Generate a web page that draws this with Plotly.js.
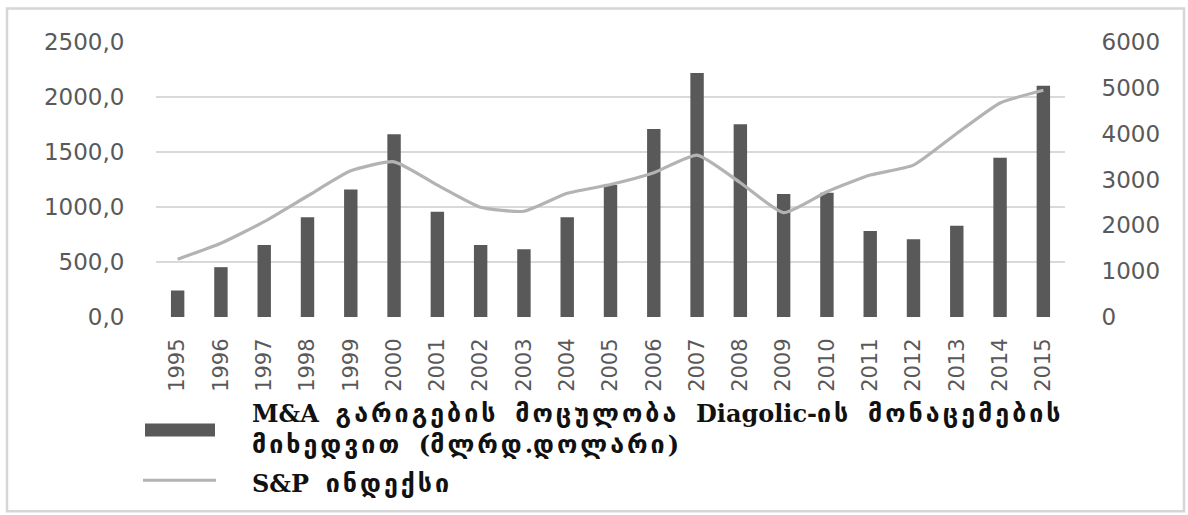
<!DOCTYPE html>
<html>
<head>
<meta charset="utf-8">
<script src="https://cdn.plot.ly/plotly-3.0.1.min.js"></script>
<style>
  html, body { margin: 0; padding: 0; background: #ffffff; }
  #chart { width: 1188px; height: 515px; }
</style>
</head>
<body>
<div id="chart"></div>
<script>
// Years on the category axis
const years = ['1995','1996','1997','1998','1999','2000','2001','2002','2003','2004',
               '2005','2006','2007','2008','2009','2010','2011','2012','2013','2014','2015'];

// M&A deal volume, bn USD (left axis)
const dealVolume = [241, 453, 655, 907, 1160, 1662, 957, 655, 616, 907,
                    1199, 1710, 2218, 1752, 1118, 1130, 782, 707, 830, 1447, 2103];

// S&P index (right axis)
const spIndex = [1262, 1610, 2080, 2640, 3190, 3386, 2879, 2394, 2307, 2698,
                 2890, 3147, 3532, 2929, 2276, 2733, 3097, 3314, 4004, 4670, 4946];

// Tick values
const leftTicks = [0, 500, 1000, 1500, 2000, 2500];
const rightTicks = [0, 1000, 2000, 3000, 4000, 5000, 6000];

const barName = 'M&A გარიგების მოცულობა Diagolic-ის მონაცემების<br>მიხედვით (მლრდ.დოლარი)';
const lineName = 'S&P ინდექსი';

const barColor = '#595959';
const lineColor = '#b3b3b3';
const tickColor = '#595959';
const gridColor = '#d9d9d9';

// plot area in pixels
const W = 1188, H = 515;
const L = 156, R = 1065, T = 41.6, B = 317.3;
const px = x => (x - L) / (R - L);
const py = y => (B - y) / (B - T);

// wide word gaps, and a heavier, wider face for runs of Georgian letters
const caption = s => s
  .replace(/ /g, '\u00a0\u00a0')
  .replace(/([\u10A0-\u10FF]+)/g,
    '<span style="font-family:DejaVu Sans;font-size:25px;letter-spacing:3px">$1</span>');

const traces = [
  {
    type: 'bar', x: years, y: dealVolume, name: barName,
    marker: { color: barColor }, showlegend: false, yaxis: 'y'
  },
  {
    type: 'scatter', mode: 'lines', x: years, y: spIndex, name: lineName,
    line: { color: lineColor, width: 3.2, shape: 'spline', smoothing: 0.5 },
    showlegend: false, yaxis: 'y2'
  }
];

const legendFont = { family: 'DejaVu Serif, serif', size: 24, color: '#111111' };

const layout = {
  width: W, height: H,
  margin: { l: L, r: W - R, t: T, b: H - B, pad: 0 },
  paper_bgcolor: '#ffffff', plot_bgcolor: '#ffffff',
  bargap: 0.69,
  showlegend: false,
  xaxis: {
    type: 'category', tickangle: -90,
    tickfont: { family: 'DejaVu Sans, sans-serif', size: 21, color: tickColor },
    ticks: 'outside', ticklen: 12, tickcolor: 'rgba(0,0,0,0)',
    showgrid: false, zeroline: false, showline: false, fixedrange: true
  },
  yaxis: {
    range: [0, 2500], tickvals: leftTicks, tickformat: '.1f',
    tickfont: { family: 'DejaVu Sans, sans-serif', size: 23, color: tickColor },
    ticks: 'outside', ticklen: 26, tickcolor: 'rgba(0,0,0,0)',
    showgrid: true, gridcolor: gridColor, gridwidth: 2,
    zeroline: false, showline: false, fixedrange: true
  },
  yaxis2: {
    range: [0, 6000], tickvals: rightTicks, overlaying: 'y', side: 'right',
    tickfont: { family: 'DejaVu Sans, sans-serif', size: 23, color: tickColor },
    ticks: 'outside', ticklen: 31, tickcolor: 'rgba(0,0,0,0)',
    showgrid: false, zeroline: false, showline: false, fixedrange: true
  },
  separators: ',.',
  shapes: [
    // outer frame
    { type: 'rect', xref: 'paper', yref: 'paper',
      x0: px(7), x1: px(1184), y0: py(512), y1: py(8),
      line: { color: '#d6d6d6', width: 2.5 }, fillcolor: 'rgba(0,0,0,0)', layer: 'below' },
    // legend swatches
    { type: 'rect', xref: 'paper', yref: 'paper',
      x0: px(145), x1: px(215), y0: py(437), y1: py(424),
      line: { width: 0 }, fillcolor: barColor },
    { type: 'line', xref: 'paper', yref: 'paper',
      x0: px(143), x1: px(216), y0: py(481), y1: py(481),
      line: { color: lineColor, width: 3 } }
  ],
  annotations: [
    { xref: 'paper', yref: 'paper', x: px(250), y: py(430), xanchor: 'left', yanchor: 'middle',
      text: '<b>' + caption(barName) + '</b>', showarrow: false, align: 'left', font: legendFont },
    { xref: 'paper', yref: 'paper', x: px(250), y: py(484), xanchor: 'left', yanchor: 'middle',
      text: '<b>' + caption(lineName) + '</b>', showarrow: false, align: 'left', font: legendFont }
  ]
};

Plotly.newPlot('chart', traces, layout, { displayModeBar: false, staticPlot: true });
</script>
</body>
</html>
